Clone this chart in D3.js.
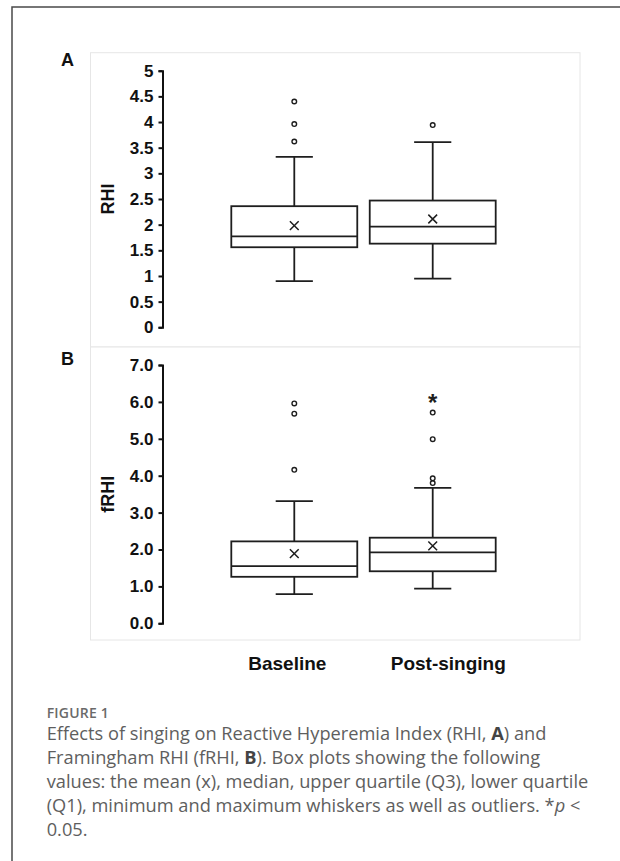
<!DOCTYPE html>
<html><head><meta charset="utf-8">
<script src="https://cdn.jsdelivr.net/npm/d3@7"></script>
<style>body{margin:0;background:#fff} svg{display:block}</style>
</head><body>
<svg id="c" width="620" height="861"></svg>
<script>
// ---------- data ----------
const categories = ["Baseline", "Post-singing"];

// Panel A: RHI
const rhiMin = [0.90, 0.95];
const rhiQ1 = [1.56, 1.63];
const rhiMedian = [1.77, 1.96];
const rhiQ3 = [2.36, 2.47];
const rhiMax = [3.32, 3.61];
const rhiMean = [1.98, 2.11];
const rhiOutliers = [[3.62, 3.96, 4.40], [3.94]];
const rhiTicks = [0, 0.5, 1, 1.5, 2, 2.5, 3, 3.5, 4, 4.5, 5];
const rhiTickLabels = ["0", "0.5", "1", "1.5", "2", "2.5", "3", "3.5", "4", "4.5", "5"];

// Panel B: fRHI
const frhiMin = [0.79, 0.94];
const frhiQ1 = [1.26, 1.41];
const frhiMedian = [1.55, 1.92];
const frhiQ3 = [2.22, 2.32];
const frhiMax = [3.31, 3.67];
const frhiMean = [1.89, 2.10];
const frhiOutliers = [[4.16, 5.68, 5.96], [3.80, 3.93, 4.99, 5.71]];
const frhiStar = [null, 6.12];
const frhiTicks = [0, 1, 2, 3, 4, 5, 6, 7];
const frhiTickLabels = ["0.0", "1.0", "2.0", "3.0", "4.0", "5.0", "6.0", "7.0"];

const captionTitle = "FIGURE 1";

// ---------- drawing ----------
const svg = d3.select("#c");
const ink = "#1e1e1e";
const boldFont = "'Liberation Sans', Arial, sans-serif";

// outer figure frame
svg.append("path").attr("d", "M12,861V7H620")
  .attr("fill", "none").attr("stroke", "#4a4a4a").attr("stroke-width", 1.5);

const x = d3.scaleBand().domain(categories).range([231.3, 495.7]).paddingInner(0.09);
const xLab = d3.scalePoint().domain(categories).range([287.3, 448.3]);

function panel(cfg) {
  const g = svg.append("g");
  g.append("rect").attr("x", 90.5).attr("y", cfg.frameTop).attr("width", 489.5)
    .attr("height", cfg.frameBottom - cfg.frameTop)
    .attr("fill", "#fff").attr("stroke", "#e6e6e6").attr("stroke-width", 1);

  const y = d3.scaleLinear().domain([0, d3.max(cfg.ticks)]).range(cfg.yRange);

  const ax = g.append("g").attr("transform", "translate(162.5,0)")
    .call(d3.axisLeft(y).tickValues(cfg.ticks)
      .tickFormat((d, i) => cfg.tickLabels[i]).tickSize(4).tickSizeOuter(4).tickPadding(5));
  ax.select(".domain").attr("stroke", "#111").attr("stroke-width", 2);
  ax.selectAll(".tick line").attr("stroke", "#111").attr("stroke-width", 2);
  ax.selectAll(".tick text").attr("fill", "#111")
    .style("font", "bold 17px " + boldFont);

  g.append("text").attr("transform", `translate(108,${(cfg.yRange[0] + cfg.yRange[1]) / 2}) rotate(-90)`)
    .attr("text-anchor", "middle").attr("dominant-baseline", "central")
    .style("font", "bold 18px " + boldFont).attr("fill", "#111").text(cfg.title);

  g.append("text").attr("x", 61).attr("y", cfg.letterY)
    .style("font", "bold 18px " + boldFont).attr("fill", "#111").text(cfg.letter);

  const bw = x.bandwidth();
  const capW = bw * 0.295;
  categories.forEach((c, i) => {
    const cx = x(c) + bw / 2;
    const bg = g.append("g").attr("stroke", ink).attr("stroke-width", 1.8).attr("fill", "none");
    // whiskers
    bg.append("line").attr("x1", cx).attr("x2", cx).attr("y1", y(cfg.q3[i])).attr("y2", y(cfg.max[i]));
    bg.append("line").attr("x1", cx).attr("x2", cx).attr("y1", y(cfg.q1[i])).attr("y2", y(cfg.min[i]));
    bg.append("line").attr("x1", cx - capW / 2).attr("x2", cx + capW / 2).attr("y1", y(cfg.max[i])).attr("y2", y(cfg.max[i]));
    bg.append("line").attr("x1", cx - capW / 2).attr("x2", cx + capW / 2).attr("y1", y(cfg.min[i])).attr("y2", y(cfg.min[i]));
    // box
    bg.append("rect").attr("x", x(c)).attr("width", bw)
      .attr("y", y(cfg.q3[i])).attr("height", y(cfg.q1[i]) - y(cfg.q3[i])).attr("fill", "#fff");
    bg.append("line").attr("x1", x(c)).attr("x2", x(c) + bw).attr("y1", y(cfg.median[i])).attr("y2", y(cfg.median[i]));
    // mean
    g.append("path").attr("d", d3.symbol(d3.symbolTimes, 52)())
      .attr("transform", `translate(${cx},${y(cfg.mean[i])})`)
      .attr("stroke", ink).attr("stroke-width", 1.5).attr("fill", "none");
    // outliers
    g.selectAll(null).data(cfg.outliers[i]).enter().append("circle")
      .attr("cx", cx).attr("cy", d => y(d)).attr("r", 2.3)
      .attr("fill", "#fff").attr("stroke", ink).attr("stroke-width", 1.4);
    if (cfg.star && cfg.star[i] != null) {
      g.append("text").attr("x", cx).attr("y", y(cfg.star[i]) + 13.5)
        .attr("text-anchor", "middle").style("font", "bold 24px " + boldFont)
        .attr("fill", ink).text("*");
    }
  });
  return y;
}

panel({
  frameTop: 52.7, frameBottom: 347, yRange: [327.3, 70.7], letter: "A", letterY: 65.7, title: "RHI",
  ticks: rhiTicks, tickLabels: rhiTickLabels,
  min: rhiMin, q1: rhiQ1, median: rhiMedian, q3: rhiQ3, max: rhiMax, mean: rhiMean, outliers: rhiOutliers
});
panel({
  frameTop: 347, frameBottom: 640, yRange: [623.3, 365], letter: "B", letterY: 365.3, title: "fRHI",
  ticks: frhiTicks, tickLabels: frhiTickLabels,
  min: frhiMin, q1: frhiQ1, median: frhiMedian, q3: frhiQ3, max: frhiMax, mean: frhiMean,
  outliers: frhiOutliers, star: frhiStar
});

// category labels
svg.selectAll(null).data(categories).enter().append("text")
  .attr("x", d => xLab(d)).attr("y", 669.5).attr("text-anchor", "middle")
  .style("font", "bold 19px " + boldFont).attr("fill", "#111").text(d => d);

// caption
const capFont = "'Open Sans', 'Noto Sans', sans-serif";
svg.append("text").attr("x", 46.7).attr("y", 717.5)
  .style("font", "600 14px " + capFont).attr("fill", "#6a6a6a")
  .attr("letter-spacing", 0.2).text(captionTitle);

const capLines = [
  [["Effects of singing on Reactive Hyperemia Index (RHI, ", ""], ["A", "b"], [") and", ""]],
  [["Framingham RHI (fRHI, ", ""], ["B", "b"], ["). Box plots showing the following", ""]],
  [["values: the mean (x), median, upper quartile (Q3), lower quartile", ""]],
  [["(Q1), minimum and maximum whiskers as well as outliers. *", ""], ["p", "i"], [" <", ""]],
  [["0.05.", ""]]
];
const capG = svg.append("g").attr("fill", "#5e5e5e");
const texts = capLines.map((ln, i) => {
  const t = capG.append("text").attr("x", 46.7).attr("y", 740 + i * 24)
    .style("font-family", capFont).style("font-size", "17px").style("font-weight", 400);
  ln.forEach(([s, st]) => {
    const ts = t.append("tspan").text(s);
    if (st === "b") ts.style("font-weight", 700).attr("fill", "#444");
    if (st === "i") ts.style("font-style", "italic");
  });
  return t;
});
// fit line 1 width to the reference (~500px)
const w0 = texts[0].node().getComputedTextLength();
const fs = 17 * 500 / w0;
texts.forEach(t => t.style("font-size", fs + "px"));
</script>
</body></html>
